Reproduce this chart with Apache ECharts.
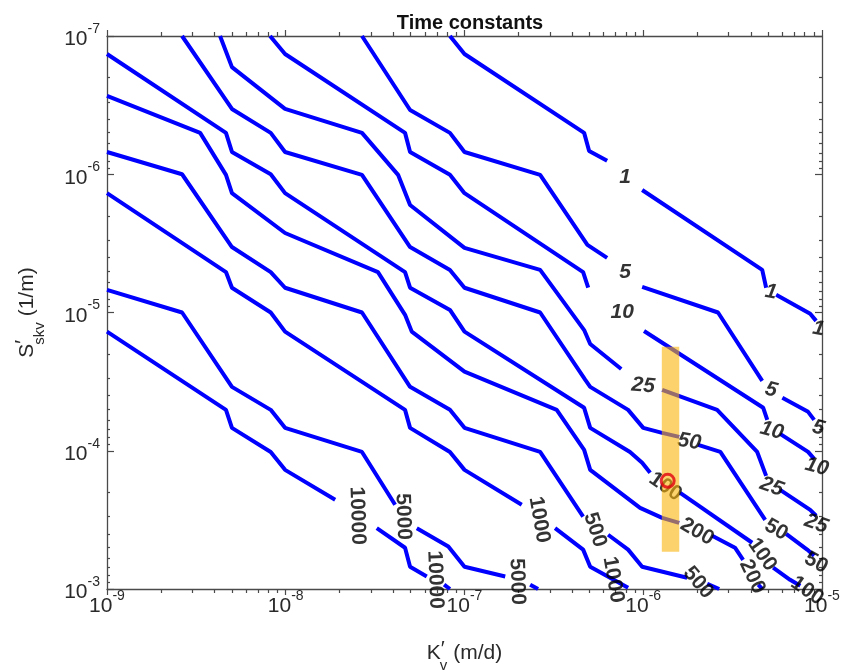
<!DOCTYPE html>
<html><head><meta charset="utf-8">
<script src="https://cdn.jsdelivr.net/npm/echarts@6/dist/echarts.min.js"></script>
<style>html,body{margin:0;padding:0;background:#fff}#c{width:853px;height:672px}</style>
</head><body><div id="c"></div>
<script>
// Contour levels (time constants)
const contourLevels = [1, 5, 10, 25, 50, 100, 200, 500, 1000, 5000, 10000];

// Each level: list of segments (broken at inline labels); points are [K'v (m/d), S'skv (1/m)]
const level1 = [
  [[8.29e-8,1e-7],[1.0e-7,1.35e-7],[4.67e-7,5.02e-7],[4.98e-7,6.78e-7],[6.28e-7,8.0e-7]],
  [[9.86e-7,1.30e-6],[4.63e-6,4.92e-6],[4.87e-6,6.62e-6]],
  [[5.54e-6,7.45e-6],[8.59e-6,1.02e-5],[9.27e-6,1.15e-5]]
];
const level5 = [
  [[2.67e-8,1e-7],[4.96e-8,3.43e-7],[8.29e-8,5.02e-7],[1.0e-7,6.9e-7],[2.65e-7,1.01e-6],[4.87e-7,3.24e-6],[6.28e-7,4.03e-6]],
  [[9.86e-7,6.52e-6],[2.62e-6,1.0e-5],[4.63e-6,3.12e-5]],
  [[6.0e-6,4.14e-5],[8.36e-6,5.23e-5],[9.04e-6,5.98e-5]]
];
const level10 = [
  [[8.17e-9,1e-7],[9.91e-9,1.35e-7],[4.65e-8,5.02e-7],[4.96e-8,6.9e-7],[8.29e-8,1.01e-6],[1.0e-7,1.37e-6],[4.61e-7,5.1e-6],[4.92e-7,6.62e-6]],
  [[1.01e-6,1.36e-5],[4.69e-6,4.89e-5],[4.94e-6,5.98e-5]],
  [[5.83e-6,7.55e-5],[8.36e-6,1.02e-4],[9.04e-6,1.144e-4]]
];
const level25 = [
  [[4.29e-9,1e-7],[5.0e-9,1.68e-7],[9.91e-9,3.37e-7],[2.67e-8,5.02e-7],[4.25e-8,1.01e-6],[4.96e-8,1.67e-6],[1.0e-7,3.41e-6],[2.65e-7,4.92e-6],[4.67e-7,1.34e-5],[5.05e-7,1.69e-5],[7.53e-7,2.56e-5]],
  [[1.276e-6,3.63e-5],[2.59e-6,5.06e-5],[4.34e-6,1.02e-4],[4.87e-6,1.52e-4]],
  [[5.83e-6,1.92e-4],[8.59e-6,2.68e-4],[9.27e-6,2.95e-4]]
];
const level50 = [
  [[2.63e-9,1e-7],[5.0e-9,3.37e-7],[8.24e-9,5.02e-7],[9.91e-9,6.9e-7],[2.67e-8,1.01e-6],[4.96e-8,3.36e-6],[8.29e-8,4.92e-6],[1.0e-7,6.62e-6],[2.65e-7,1.0e-5],[4.74e-7,3.07e-5],[5.05e-7,3.45e-5],[8.23e-7,5.06e-5],[1.0e-6,6.83e-5],[1.276e-6,7.42e-5],[1.588e-6,7.93e-5]],
  [[2.03e-6,9.06e-5],[2.70e-6,1.02e-4],[4.81e-6,3.16e-4]],
  [[6.30e-6,3.99e-4],[8.26e-6,5.19e-4],[9.04e-6,5.75e-4]]
];
const level100 = [
  [[1e-9,1.35e-7],[4.63e-9,5.02e-7],[5.0e-9,6.9e-7],[8.24e-9,1e-6],[9.91e-9,1.37e-6],[4.65e-8,5.1e-6],[4.96e-8,6.62e-6],[8.29e-8,9.58e-6],[1.0e-7,1.375e-5],[4.67e-7,4.89e-5],[5.05e-7,6.83e-5],[8.43e-7,1.02e-4],[9.86e-7,1.22e-4],[1.093e-6,1.445e-4]],
  [[1.609e-6,2.02e-4],[4.07e-6,4.63e-4]],
  [[5.33e-6,7.0e-4],[6.63e-6,8.58e-4],[7.56e-6,9.46e-4]]
];
const level200 = [
  [[1e-9,2.71e-7],[3.32e-9,5.02e-7],[4.63e-9,1.01e-6],[5.0e-9,1.37e-6],[9.91e-9,2.66e-6],[3.28e-8,5.1e-6],[4.65e-8,1.04e-5],[5.07e-8,1.375e-5],[1.0e-7,2.68e-5],[3.28e-7,5.06e-5],[4.67e-7,9.85e-5],[5.05e-7,1.375e-4],[9.60e-7,2.59e-4],[1.276e-6,3.06e-4],[1.588e-6,3.32e-4]],
  [[2.43e-6,4.12e-4],[3.26e-6,5.03e-4],[3.62e-6,6.15e-4]],
  [[4.40e-6,9.3e-4],[4.63e-6,1e-3]]
];
const level500 = [
  [[1e-9,6.9e-7],[2.63e-9,1e-6],[5.0e-9,3.36e-6],[8.24e-9,5.1e-6],[9.91e-9,6.62e-6],[2.67e-8,1.0e-5],[4.96e-8,3.45e-5],[8.29e-8,5.06e-5],[1.0e-7,6.83e-5],[2.65e-7,1.02e-4],[4.61e-7,3.0e-4]],
  [[6.36e-7,4.05e-4],[8.23e-7,5.19e-4],[9.86e-7,6.9e-4],[1.76e-6,8.3e-4]],
  [[2.28e-6,9.16e-4],[2.66e-6,1e-3]]
];
const level1000 = [
  [[1e-9,1.37e-6],[4.63e-9,5.1e-6],[5.0e-9,6.62e-6],[8.24e-9,1.0e-5],[9.91e-9,1.375e-5],[4.65e-8,5.06e-5],[4.96e-8,6.83e-5],[8.29e-8,1.02e-4],[1.0e-7,1.375e-4],[2.09e-7,2.46e-4]],
  [[3.21e-7,3.63e-4],[4.61e-7,5.19e-4],[5.05e-7,6.9e-4],[8.23e-7,9.8e-4]]
];
const level5000 = [
  [[1e-9,6.87e-6],[2.63e-9,1.0e-5],[5.0e-9,3.45e-5],[8.24e-9,5.06e-5],[9.91e-9,6.83e-5],[2.67e-8,1.02e-4],[4.09e-8,2.46e-4]],
  [[5.41e-8,3.63e-4],[8.12e-8,4.93e-4],[1.0e-7,6.9e-4],[1.69e-7,8.12e-4]],
  [[2.33e-7,9.3e-4],[2.58e-7,1e-3]]
];
const level10000 = [
  [[1e-9,1.375e-5],[4.63e-9,5.06e-5],[5.0e-9,6.83e-5],[8.24e-9,1.02e-4],[9.91e-9,1.375e-4],[1.89e-8,2.26e-4]],
  [[3.23e-8,3.63e-4],[4.65e-8,5.03e-4],[4.96e-8,6.9e-4],[6.15e-8,8.12e-4]],
  [[7.69e-8,9.3e-4],[8.29e-8,1e-3]]
];

// Inline contour labels
const labelText = ['1','1','1','5','5','5','10','10','10','25','25','25','50','50','50','100','100','100','200','200','500','500','1000','1000','5000','5000','10000','10000'];
const labelK = [7.91e-7,5.19e-6,9.56e-6, 7.91e-7,5.19e-6,9.56e-6, 7.63e-7,5.24e-6,9.35e-6, 1.0e-6,5.24e-6,9.27e-6, 1.81e-6,5.54e-6,9.27e-6, 1.33e-6,4.63e-6,8.26e-6, 2.0e-6,4.07e-6, 5.37e-7,2.03e-6, 2.62e-7,6.79e-7, 4.53e-8,1.97e-7, 2.51e-8,6.85e-8];
const labelS = [1.05e-6,7.1e-6,1.31e-5, 5.09e-6,3.63e-5,6.83e-5, 1.0e-5,7.17e-5,1.31e-4, 3.39e-5,1.82e-4,3.38e-4, 8.62e-5,3.73e-4,6.46e-4, 1.82e-4,5.65e-4,1.03e-3, 3.85e-4,8.16e-4, 3.73e-4,9.0e-4, 3.16e-4,8.58e-4, 3.0e-4,8.86e-4, 2.95e-4,8.58e-4];
const labelRot = [0,-10,-10, 0,-15,-15, 0,-15,-15, -5,-20,-20, -10,-30,-30, -35,-55,-35, -30,-65, -72,-50, -80,-80, -88,-88, -88,-88];

// Highlight band and marked point
const bandK = [1.27e-6, 1.59e-6];
const bandS = [1.77e-5, 5.38e-4];
const markerK = [1.37e-6];
const markerS = [1.65e-4];

// Axis decades (tick labels 10^n)
const xDecades = [-9, -8, -7, -6, -5];
const yDecades = [-7, -6, -5, -4, -3];

const FONT = 'Liberation Sans, Arial, sans-serif';
const AX = '#4a4a4a';
const TXT = '#2a2a2a';

function majors(decs){ return decs.map(d => Math.pow(10, d)); }
function minors(decs){
  const out = [];
  for (let i = 0; i < decs.length - 1; i++) for (let m = 2; m <= 9; m++) out.push(m * Math.pow(10, decs[i]));
  return out;
}
const xMajor = majors(xDecades), xMinor = minors(xDecades);
const yMajor = majors(yDecades), yMinor = minors(yDecades);

const powRich = {
  b: {fontSize: 21, fontFamily: FONT, color: TXT, lineHeight: 28, verticalAlign: 'bottom'},
  s: {fontSize: 14, fontFamily: FONT, color: TXT, lineHeight: 28, verticalAlign: 'top'}
};
function powFmt(v){ return '{b|10}{s|' + Math.round(Math.log10(v)) + '}'; }

function logAxis(base, extra){
  return Object.assign({
    type: 'log', logBase: 10, min: base[0], max: base[1],
    splitLine: {show: false}, minorTick: {show: false}
  }, extra);
}
const tickStyle = {color: AX, width: 1.2};
const nameRich = {
  n: {fontSize: 21, fontFamily: FONT, color: TXT, lineHeight: 28, verticalAlign: 'middle'},
  p: {fontSize: 21, fontFamily: FONT, color: TXT, lineHeight: 28, verticalAlign: 'top'},
  sub: {fontSize: 15, fontFamily: FONT, color: TXT, lineHeight: 28, verticalAlign: 'bottom', padding: [0,0,-6,-5]}
};

const xAxes = [
  logAxis([1e-9,1e-5], {position: 'bottom',
    axisLine: {show: true, lineStyle: {color: AX, width: 1.3}},
    axisTick: {show: true, inside: false, length: 6, customValues: xMajor, lineStyle: tickStyle},
    axisLabel: {show: true, customValues: xMajor, formatter: powFmt, rich: powRich, margin: 0},
    name: '{n|K}{p|\u2032}{sub|v}{n| (m/d)}', nameLocation: 'middle', nameGap: 50,
    nameTextStyle: {rich: nameRich}
  }),
  logAxis([1e-9,1e-5], {position: 'bottom', axisLine: {show: false},
    axisTick: {show: true, inside: false, length: 4, customValues: xMinor, lineStyle: tickStyle},
    axisLabel: {show: false}}),
  logAxis([1e-9,1e-5], {position: 'top',
    axisLine: {show: true, lineStyle: {color: AX, width: 1.3}},
    axisTick: {show: true, inside: false, length: 6, customValues: xMajor, lineStyle: tickStyle},
    axisLabel: {show: false}}),
  logAxis([1e-9,1e-5], {position: 'top', axisLine: {show: false},
    axisTick: {show: true, inside: false, length: 4, customValues: xMinor, lineStyle: tickStyle},
    axisLabel: {show: false}})
];
const yAxes = [
  logAxis([1e-7,1e-3], {position: 'left', inverse: true,
    axisLine: {show: true, lineStyle: {color: AX, width: 1.3}},
    axisTick: {show: true, inside: true, length: 7, customValues: yMajor, lineStyle: tickStyle},
    axisLabel: {show: true, customValues: yMajor, formatter: powFmt, rich: powRich, margin: 7},
    name: '{n|S}{p|\u2032}{sub|skv}{n| (1/m)}', nameLocation: 'middle', nameGap: 66, nameRotate: 90,
    nameTextStyle: {rich: nameRich}
  }),
  logAxis([1e-7,1e-3], {position: 'left', inverse: true, axisLine: {show: false},
    axisTick: {show: true, inside: true, length: 3, customValues: yMinor, lineStyle: tickStyle},
    axisLabel: {show: false}}),
  logAxis([1e-7,1e-3], {position: 'right', inverse: true,
    axisLine: {show: true, lineStyle: {color: AX, width: 1.3}},
    axisTick: {show: true, inside: true, length: 7, customValues: yMajor, lineStyle: tickStyle},
    axisLabel: {show: false}}),
  logAxis([1e-7,1e-3], {position: 'right', inverse: true, axisLine: {show: false},
    axisTick: {show: true, inside: true, length: 3, customValues: yMinor, lineStyle: tickStyle},
    axisLabel: {show: false}})
];

const contours = [level1, level5, level10, level25, level50, level100, level200, level500, level1000, level5000, level10000];
const series = [];
contours.forEach((segs, li) => {
  segs.forEach(seg => {
    series.push({
      type: 'line', name: String(contourLevels[li]), data: seg,
      xAxisIndex: 0, yAxisIndex: 0,
      showSymbol: false, symbol: 'none', silent: true, animation: false, z: 2,
      lineStyle: {color: '#0000ff', width: 4}
    });
  });
});

series.push({
  type: 'scatter', xAxisIndex: 0, yAxisIndex: 0, z: 3, silent: true, animation: false, clip: false,
  symbolSize: 1, itemStyle: {color: 'rgba(0,0,0,0)'},
  label: {show: true, position: 'inside', fontSize: 21, fontWeight: 'bold', color: '#000', fontFamily: FONT},
  data: labelText.map((t, i) => ({
    value: [labelK[i], labelS[i]],
    label: {formatter: t, rotate: labelRot[i], fontStyle: Math.abs(labelRot[i]) <= 20 ? 'italic' : 'normal'}
  }))
});

series.push({
  type: 'custom', xAxisIndex: 0, yAxisIndex: 0, z: 5, silent: true, animation: false,
  encode: {x: [0, 2], y: [1, 3]},
  data: [[bandK[0], bandS[0], bandK[1], bandS[1]]],
  renderItem: function(params, api){
    const p0 = api.coord([api.value(0), api.value(1)]);
    const p1 = api.coord([api.value(2), api.value(3)]);
    return {type: 'rect', shape: {x: Math.min(p0[0], p1[0]), y: Math.min(p0[1], p1[1]),
      width: Math.abs(p1[0] - p0[0]), height: Math.abs(p1[1] - p0[1])},
      style: {fill: 'rgba(250,180,10,0.6)'}};
  }
});

series.push({
  type: 'scatter', xAxisIndex: 0, yAxisIndex: 0, z: 6, silent: true, animation: false,
  symbol: 'circle', symbolSize: 13,
  itemStyle: {color: 'rgba(0,0,0,0)', borderColor: '#e00010', borderWidth: 3},
  data: markerK.map((k, i) => [k, markerS[i]])
});

const chart = echarts.init(document.getElementById('c'), null, {renderer: 'canvas'});
chart.setOption({
  backgroundColor: '#ffffff',
  animation: false,
  title: {text: 'Time constants', left: 465, top: 8, textAlign: 'center',
    textStyle: {fontSize: 20, fontWeight: 'bold', color: '#111', fontFamily: FONT}},
  grid: {left: 107, right: 31, top: 36, bottom: 83, containLabel: false, outerBoundsMode: 'none'},
  xAxis: xAxes,
  yAxis: yAxes,
  series: series
});
</script>
</body></html>
